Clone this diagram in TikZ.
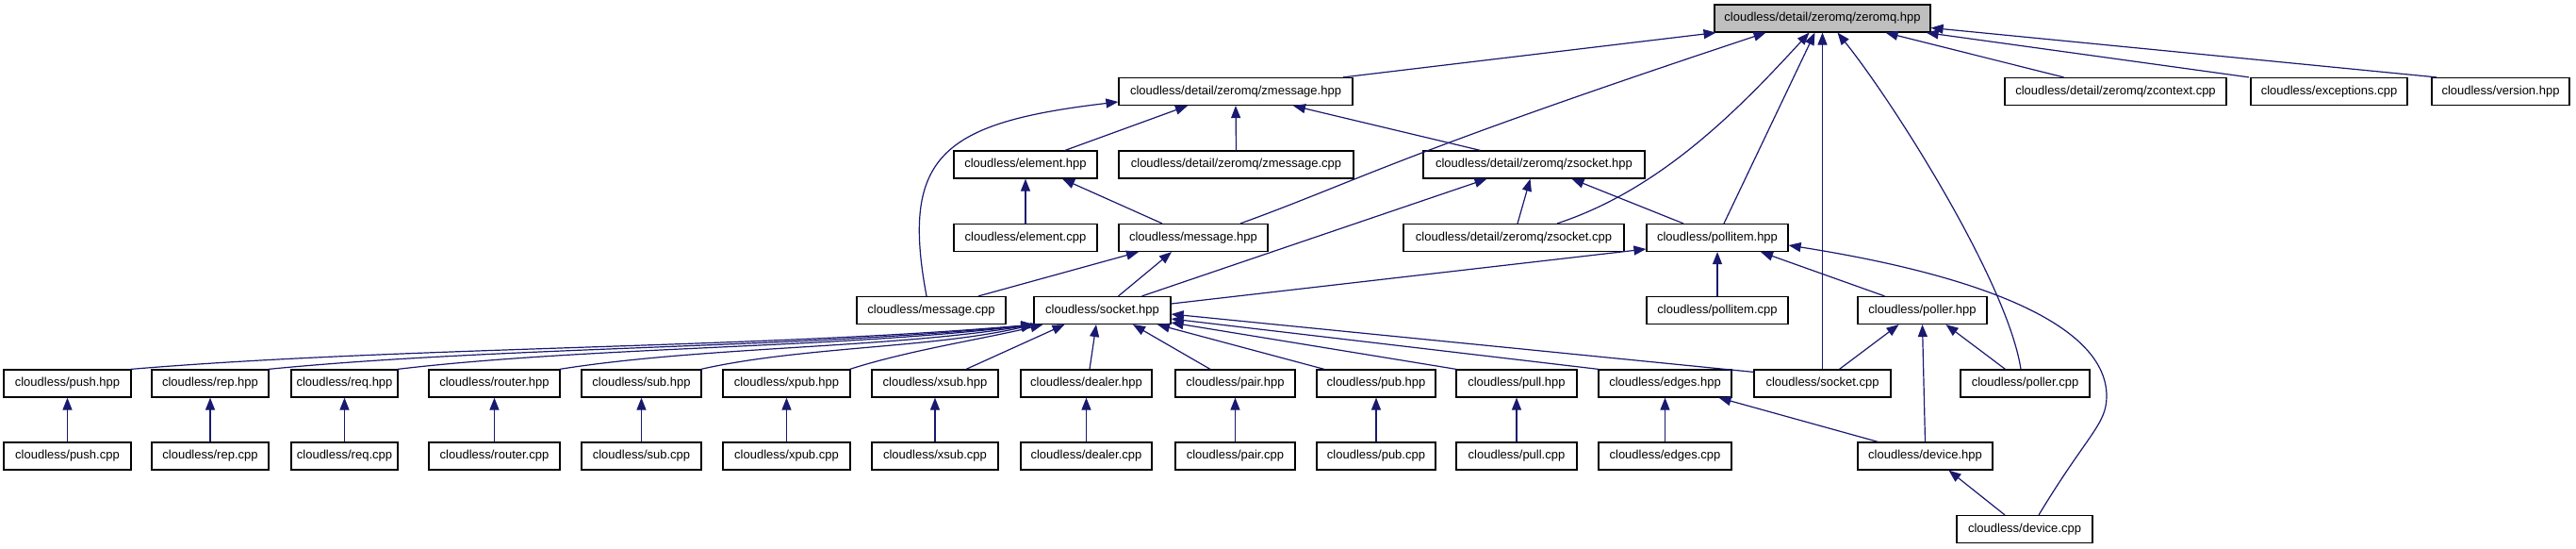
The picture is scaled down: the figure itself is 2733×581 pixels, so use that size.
\documentclass[tikz,border=0pt]{standalone}
\usepackage{fontspec}
\setmainfont{Liberation Sans}
\usepackage{tikz}
\usetikzlibrary{arrows.meta}
\definecolor{edgeblue}{HTML}{191970}

\begin{document}
\begin{tikzpicture}[
  x=1pt, y=-1pt,
  font=\fontsize{13}{15}\selectfont,
  file/.style={
    draw=black, fill=white, line width=1.2pt,
    minimum width=#1pt, minimum height=29pt, inner sep=0pt
  },
  topfile/.style={file=#1, fill=gray!50},
  dep/.style={draw=edgeblue, line width=1.2pt, -{Triangle[length=13pt, width=10pt]}}
]
  \fill[white] (0,0) rectangle (2733,581);
  \useasboundingbox (0,0) rectangle (2733,581);

  \node[topfile=229] (zmq) at (1933.5,19.5) {cloudless/detail/zeromq/zeromq.hpp};

  \node[file=248] (zmsgh) at (1311,97) {cloudless/detail/zeromq/zmessage.hpp};
  \node[file=235] (zctxc) at (2244.5,97) {cloudless/detail/zeromq/zcontext.cpp};
  \node[file=166] (excc) at (2471,97) {cloudless/exceptions.cpp};
  \node[file=146] (verh) at (2653,97) {cloudless/version.hpp};

  \node[file=152] (elemh) at (1088,174.5) {cloudless/element.hpp};
  \node[file=249] (zmsgc) at (1311.5,174.5) {cloudless/detail/zeromq/zmessage.cpp};
  \node[file=235] (zsockh) at (1627.5,174.5) {cloudless/detail/zeromq/zsocket.hpp};

  \node[file=152] (elemc) at (1088,252) {cloudless/element.cpp};
  \node[file=158] (msgh) at (1266,252) {cloudless/message.hpp};
  \node[file=234] (zsockc) at (1606,252) {cloudless/detail/zeromq/zsocket.cpp};
  \node[file=150] (pollh) at (1822,252) {cloudless/pollitem.hpp};

  \node[file=158] (msgc) at (988,329) {cloudless/message.cpp};
  \node[file=145] (sockh) at (1169.5,329) {cloudless/socket.hpp};
  \node[file=150] (pollc) at (1822,329) {cloudless/pollitem.cpp};
  \node[file=137] (pollerh) at (2039.5,329) {cloudless/poller.hpp};

  \node[file=135] (pushh) at (71.5,406.5) {cloudless/push.hpp};
  \node[file=124] (reph) at (223,406.5) {cloudless/rep.hpp};
  \node[file=113] (reqh) at (365.5,406.5) {cloudless/req.hpp};
  \node[file=139] (routerh) at (524.5,406.5) {cloudless/router.hpp};
  \node[file=127] (subh) at (680.5,406.5) {cloudless/sub.hpp};
  \node[file=135] (xpubh) at (834.5,406.5) {cloudless/xpub.hpp};
  \node[file=134] (xsubh) at (992,406.5) {cloudless/xsub.hpp};
  \node[file=139] (dealerh) at (1152.5,406.5) {cloudless/dealer.hpp};
  \node[file=127] (pairh) at (1310.5,406.5) {cloudless/pair.hpp};
  \node[file=126] (pubh) at (1460,406.5) {cloudless/pub.hpp};
  \node[file=128] (pullh) at (1609,406.5) {cloudless/pull.hpp};
  \node[file=141] (edgesh) at (1766.5,406.5) {cloudless/edges.hpp};
  \node[file=145] (sockc) at (1933.5,406.5) {cloudless/socket.cpp};
  \node[file=137] (pollerc) at (2148.5,406.5) {cloudless/poller.cpp};

  \node[file=135] (pushc) at (71.5,483.5) {cloudless/push.cpp};
  \node[file=124] (repc) at (223,483.5) {cloudless/rep.cpp};
  \node[file=113] (reqc) at (365.5,483.5) {cloudless/req.cpp};
  \node[file=139] (routerc) at (524.5,483.5) {cloudless/router.cpp};
  \node[file=127] (subc) at (680.5,483.5) {cloudless/sub.cpp};
  \node[file=135] (xpubc) at (834.5,483.5) {cloudless/xpub.cpp};
  \node[file=134] (xsubc) at (992,483.5) {cloudless/xsub.cpp};
  \node[file=139] (dealerc) at (1152.5,483.5) {cloudless/dealer.cpp};
  \node[file=127] (pairc) at (1310.5,483.5) {cloudless/pair.cpp};
  \node[file=126] (pubc) at (1460,483.5) {cloudless/pub.cpp};
  \node[file=128] (pullc) at (1609,483.5) {cloudless/pull.cpp};
  \node[file=141] (edgesc) at (1766.5,483.5) {cloudless/edges.cpp};
  \node[file=143] (devh) at (2042.5,483.5) {cloudless/device.hpp};

  \node[file=144] (devc) at (2148,561) {cloudless/device.cpp};

  % includes of zeromq.hpp
  \draw[dep] ([xshift=114pt]zmsgh.north) -- ([xshift=-113pt]zmq.south);
  \draw[dep] ([xshift=50pt]msgh.north) .. controls (1440,192) and (1480,165) .. ([xshift=-60pt]zmq.south);
  \draw[dep] ([xshift=46pt]zsockc.north) .. controls (1765,200) and (1850,110) .. ([xshift=-14pt]zmq.south);
  \draw[dep] ([xshift=7pt]pollh.north) -- ([xshift=-8pt]zmq.south);
  \draw[dep] (sockc.north) -- (zmq.south);
  \draw[dep] ([xshift=-4.5pt]pollerc.north) .. controls (2130,300) and (2010,110) .. ([xshift=16pt]zmq.south);
  \draw[dep] ([xshift=-55pt]zctxc.north) -- ([xshift=67pt]zmq.south);
  \draw[dep] ([xshift=-85pt]excc.north) -- ([xshift=-5pt]zmq.south east);
  \draw[dep] ([xshift=-68pt]verh.north) -- ([yshift=-10pt]zmq.east);

  % second level
  \draw[dep] ([xshift=42pt]elemh.north) -- ([xshift=-51pt]zmsgh.south);
  \draw[dep] (zmsgc.north) -- (zmsgh.south);
  \draw[dep] ([xshift=-57pt]zsockh.north) -- ([xshift=61pt]zmsgh.south);
  \draw[dep] ([xshift=-5pt]msgc.north) .. controls (955,165) and (1000,130) .. ([yshift=-11pt]zmsgh.west);
  \draw[dep] (elemc.north) -- (elemh.south);
  \draw[dep] ([xshift=-33pt]msgh.north) -- ([xshift=39pt]elemh.south);
  \draw[dep] ([xshift=42pt]sockh.north) -- ([xshift=-50pt]zsockh.south);
  \draw[dep] ([xshift=4pt]zsockc.north) -- ([xshift=-4pt]zsockh.south);
  \draw[dep] ([xshift=-36pt]pollh.north) -- ([xshift=40pt]zsockh.south);
  \draw[dep] ([xshift=50pt]msgc.north) -- ([xshift=-58pt]msgh.south);
  \draw[dep] ([xshift=17pt]sockh.north) -- ([xshift=-23pt]msgh.south);
  \draw[dep] ([yshift=7pt]sockh.east) -- ([yshift=-12pt]pollh.west);
  \draw[dep] (pollc.north) -- (pollh.south);
  \draw[dep] ([xshift=-40pt]pollerh.north) -- ([xshift=46pt]pollh.south);
  \draw[dep] ([xshift=15pt]devc.north) .. controls (2215,460) and (2235,450) .. (2235,420)
    .. controls (2235,350) and (2120,295) .. ([yshift=-8pt]pollh.east);

  % socket.hpp
  \draw[dep] ([xshift=-1pt]pushh.north east) .. controls +(287,-24) and +(-287,25) .. (sockh.south west);
  \draw[dep] ([xshift=-1pt]reph.north east) .. controls +(244,-24) and +(-244,25) .. (sockh.south west);
  \draw[dep] ([xshift=-1pt]reqh.north east) .. controls +(203,-24) and +(-203,25) .. (sockh.south west);
  \draw[dep] ([xshift=-1pt]routerh.north east) .. controls +(151,-24) and +(-151,25) .. (sockh.south west);
  \draw[dep] ([xshift=-1pt]subh.north east) .. controls +(106,-24) and +(-106,25) .. (sockh.south west);
  \draw[dep] ([xshift=-1pt]xpubh.north east) .. controls +(62,-20) and +(-62,15) .. ([xshift=10pt]sockh.south west);
  \draw[dep] ([xshift=33pt]xsubh.north) -- ([xshift=-40pt]sockh.south);
  \draw[dep] ([xshift=3.5pt]dealerh.north) -- ([xshift=-6.5pt]sockh.south);
  \draw[dep] ([xshift=-26.5pt]pairh.north) -- ([xshift=32.5pt]sockh.south);
  \draw[dep] ([xshift=-55pt]pubh.north) -- ([xshift=58.5pt]sockh.south);
  \draw[dep] ([xshift=-64pt]pullh.north) -- ([yshift=-13pt]sockh.east);
  \draw[dep] ([xshift=-70.5pt]edgesh.north) -- ([yshift=-9pt]sockh.east);
  \draw[dep] ([yshift=-3pt]sockc.north west) -- ([yshift=-4pt]sockh.east);

  % poller, edges, device
  \draw[dep] ([xshift=18pt]sockc.north) -- ([xshift=-25pt]pollerh.south);
  \draw[dep] (devh.north) -- (pollerh.south);
  \draw[dep] ([xshift=-21pt]pollerc.north) -- ([xshift=25pt]pollerh.south);
  \draw[dep] (edgesc.north) -- (edgesh.south);
  \draw[dep] ([xshift=-50pt]devh.north) -- ([xshift=57pt]edgesh.south);
  \draw[dep] ([xshift=-21pt]devc.north) -- ([xshift=25pt]devh.south);

  % sources of the leaf headers
  \draw[dep] (pushc.north) -- (pushh.south);
  \draw[dep] (repc.north) -- (reph.south);
  \draw[dep] (reqc.north) -- (reqh.south);
  \draw[dep] (routerc.north) -- (routerh.south);
  \draw[dep] (subc.north) -- (subh.south);
  \draw[dep] (xpubc.north) -- (xpubh.south);
  \draw[dep] (xsubc.north) -- (xsubh.south);
  \draw[dep] (dealerc.north) -- (dealerh.south);
  \draw[dep] (pairc.north) -- (pairh.south);
  \draw[dep] (pubc.north) -- (pubh.south);
  \draw[dep] (pullc.north) -- (pullh.south);
\end{tikzpicture}
\end{document}
